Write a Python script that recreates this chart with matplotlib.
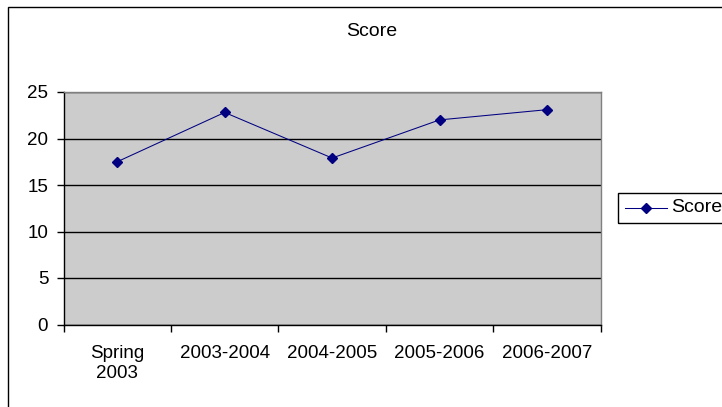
import matplotlib
matplotlib.use("Agg")
import matplotlib.pyplot as plt
from matplotlib.patches import Rectangle
from matplotlib.lines import Line2D

# score per school year
terms = ['Spring\n2003', '2003-2004', '2004-2005', '2005-2006', '2006-2007']
scores = [17.5, 22.8, 17.9, 22.0, 23.1]
yticks = [0, 5, 10, 15, 20, 25]

W, H = 722, 407
plt.rcParams['font.family'] = ['Liberation Sans', 'DejaVu Sans']

fig = plt.figure(figsize=(W / 100, H / 100), dpi=100)
fig.patch.set_facecolor('white')

# plot area in pixel terms
left, right, top, bottom = 63.5, 600.7, 92.0, 324.5
ax = fig.add_axes([left / W, 1 - bottom / H, (right - left) / W, (bottom - top) / H])
ax.set_facecolor('#CCCCCC')

x = list(range(len(terms)))
ax.plot(x, scores, color='#000080', lw=0.75, marker='D', markersize=5.5,
        markerfacecolor='#000080', markeredgecolor='#000080', label='Score')

ax.set_xlim(-0.5, len(terms) - 0.5)
ax.set_ylim(0, 25)
ax.set_yticks(yticks)
ax.yaxis.grid(True, color='black', lw=1)
ax.set_axisbelow(True)

# category labels centred, tick marks between categories
ax.set_xticks(x)
ax.set_xticklabels(terms, linespacing=1.2)
ax.set_xticks([i - 0.5 for i in range(len(terms) + 1)], minor=True)
ax.tick_params(axis='x', which='major', length=0, pad=15, labelsize=13.5)
ax.tick_params(axis='x', which='minor', length=5, width=1, direction='out', color='black')
ax.tick_params(axis='y', length=5, width=1, direction='out', pad=6, labelsize=13.5)

for side in ['top', 'right']:
    ax.spines[side].set_color('#808080')
    ax.spines[side].set_linewidth(1)
for side in ['left', 'bottom']:
    ax.spines[side].set_color('black')
    ax.spines[side].set_linewidth(1)

fig.text(372 / W, 1 - 31 / H, 'Score', ha='center', va='center', fontsize=14)

# legend box, partly running off the right edge
fig.patches.append(Rectangle((618 / W, 1 - 223 / H), 140 / W, 30.5 / H,
                             transform=fig.transFigure, fill=False,
                             edgecolor='black', lw=1))
key = Line2D([625 / W, 646 / W, 667 / W], [1 - 208 / H] * 3,
             transform=fig.transFigure, color='#000080', lw=0.75,
             marker='D', markersize=5.5, markevery=[1])
fig.lines.append(key)
fig.text(671 / W, 1 - 208 / H, 'Score', ha='left', va='center', fontsize=14)

# chart frame
fig.patches.append(Rectangle((8 / W, -0.1), 2, 1.1 - 7.5 / H,
                             transform=fig.transFigure, fill=False,
                             edgecolor='black', lw=1))

fig.savefig('out.png', dpi=100)
